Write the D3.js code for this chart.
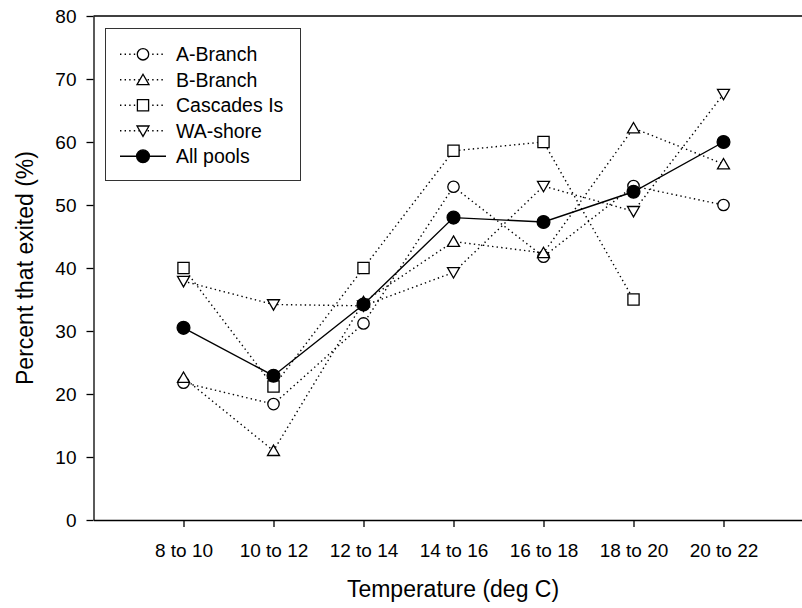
<!DOCTYPE html>
<html>
<head>
<meta charset="utf-8">
<script src="https://d3js.org/d3.v7.min.js"></script>
<style>
body { margin: 0; background: #fff; }
text { font-family: Arial, "Liberation Sans", sans-serif; fill: #000; }
.tick_text { font-size: 19px; }
.axis_title { font-size: 23px; }
.legend_text { font-size: 19.5px; }
</style>
</head>
<body>
<div id="canvas"></div>
<script>
// ----------------------------------------------------------
// DATA -----------------------------------------------------
// ----------------------------------------------------------

var categories = ["8 to 10", "10 to 12", "12 to 14", "14 to 16", "16 to 18", "18 to 20", "20 to 22"];

var y_ticks = [0, 10, 20, 30, 40, 50, 60, 70, 80];

var a_branch    = [21.8, 18.4, 31.2, 52.9, 41.8, 53.0, 50.0];
var b_branch    = [22.6, 11.0, 34.6, 44.2, 42.4, 62.2, 56.5];
var cascades_is = [40.0, 21.2, 40.0, 58.6, 60.0, 35.0, null];
var wa_shore    = [37.9, 34.2, 34.0, 39.3, 53.0, 49.0, 67.6];
var all_pools   = [30.5, 22.9, 34.2, 48.0, 47.3, 52.1, 60.0];

var series_names = ["A-Branch", "B-Branch", "Cascades Is", "WA-shore", "All pools"];

// table built from the arrays above
var data_series = [
{ name: series_names[0], values: a_branch,    marker: "circle",   dotted: true },
{ name: series_names[1], values: b_branch,    marker: "triangle", dotted: true },
{ name: series_names[2], values: cascades_is, marker: "square",   dotted: true },
{ name: series_names[3], values: wa_shore,    marker: "down",     dotted: true },
{ name: series_names[4], values: all_pools,   marker: "filled",   dotted: false }
];


// ----------------------------------------------------------
// STRUCTURE ------------------------------------------------
// ----------------------------------------------------------

var container_width = 802;
var container_height = 608;

var plot_left = 93.5;
var plot_top = 16;
var plot_bottom = 520;

var container = d3.select("#canvas").append("svg")
.attr("width", container_width)
.attr("height", container_height)
.style("display", "block");

var xScale = d3.scaleLinear()
.domain([0, 8])
.range([plot_left, plot_left + 720]);

var yScale = d3.scaleLinear()
.domain([0, 80])
.range([plot_bottom, plot_top]);

// marker path, centred on 0,0
function marker_path(type) {
if (type == "circle") {
return d3.path().arc ? (function () { var p = d3.path(); p.arc(0, 0, 5.7, 0, 2 * Math.PI); return p.toString(); })() : "";
}
if (type == "filled") {
var p = d3.path(); p.arc(0, 0, 6.4, 0, 2 * Math.PI); return p.toString();
}
if (type == "square") {
return "M-5.6,-5.6H5.6V5.6H-5.6Z";
}
if (type == "triangle") {
return "M0,-5.6L6,4.8H-6Z";
}
if (type == "down") {
return "M0,5.6L6,-4.8H-6Z";
}
}

var gfx_group = container.append("g").attr("class", "gfx_group");
var axis_group = container.append("g").attr("class", "axis_group");
var legend_group = container.append("g").attr("class", "legend_group");


// ----------------------------------------------------------
// AXES -----------------------------------------------------
// ----------------------------------------------------------

var x_axis = d3.axisBottom(xScale)
.tickValues(d3.range(1, categories.length + 1))
.tickFormat(function (d) { return categories[d - 1]; })
.tickSize(7)
.tickPadding(12)
.tickSizeOuter(0);

var y_axis = d3.axisLeft(yScale)
.tickValues(y_ticks)
.tickSize(7)
.tickPadding(10)
.tickSizeOuter(0);

var gx = axis_group.append("g")
.attr("transform", `translate(0, ${plot_bottom})`)
.call(x_axis);

var gy = axis_group.append("g")
.attr("transform", `translate(${plot_left}, 0)`)
.call(y_axis);

axis_group.selectAll(".domain, .tick line")
.attr("stroke", "#000")
.attr("stroke-width", 1.3);

axis_group.selectAll(".tick text")
.attr("class", "tick_text")
.attr("font-size", null)
.attr("font-family", null);

gx.selectAll(".tick text").attr("dy", "0.95em");

// top frame line
axis_group.append("line")
.attr("x1", plot_left)
.attr("x2", xScale(8))
.attr("y1", yScale(80))
.attr("y2", yScale(80))
.attr("stroke", "#000")
.attr("stroke-width", 1.3);

// axis titles
axis_group.append("text")
.attr("class", "axis_title")
.attr("x", 453)
.attr("y", 597)
.attr("text-anchor", "middle")
.text("Temperature (deg C)");

axis_group.append("text")
.attr("class", "axis_title")
.attr("transform", `translate(33, ${(plot_top + plot_bottom) / 2}) rotate(-90)`)
.attr("text-anchor", "middle")
.text("Percent that exited (%)");


// ----------------------------------------------------------
// GFX ------------------------------------------------------
// ----------------------------------------------------------

var line = d3.line()
.defined(function (d) { return d != null; })
.x(function (d, i) { return xScale(i + 1); })
.y(function (d) { return yScale(d); });

// lines first
gfx_group.selectAll(".gfx_line")
.data(data_series)
.enter()
.append("path")
.attr("class", "gfx_line")
.attr("d", function (d) { return line(d.values); })
.attr("fill", "none")
.attr("stroke", "#000")
.attr("stroke-width", function (d) { return d.dotted ? 1.4 : 1.4; })
.attr("stroke-dasharray", function (d) { return d.dotted ? "1.4,3.2" : null; });

// markers on top
data_series.forEach(function (s) {
gfx_group.selectAll(null)
.data(s.values.map(function (v, i) { return { v: v, i: i }; }).filter(function (d) { return d.v != null; }))
.enter()
.append("path")
.attr("d", marker_path(s.marker))
.attr("transform", function (d) { return `translate(${xScale(d.i + 1)}, ${yScale(d.v)})`; })
.attr("fill", s.marker == "filled" ? "#000" : "#fff")
.attr("stroke", "#000")
.attr("stroke-width", 1.3);
});


// ----------------------------------------------------------
// LEGEND ---------------------------------------------------
// ----------------------------------------------------------

legend_group.append("rect")
.attr("x", 105.5)
.attr("y", 28.5)
.attr("width", 195)
.attr("height", 152)
.attr("fill", "#fff")
.attr("stroke", "#333")
.attr("stroke-width", 1);

var legend_row = legend_group.selectAll(".legend_row")
.data(data_series)
.enter()
.append("g")
.attr("class", "legend_row")
.attr("transform", function (d, i) { return `translate(0, ${54.3 + i * 25.5})`; });

legend_row.append("line")
.attr("x1", 120)
.attr("x2", 166)
.attr("stroke", "#000")
.attr("stroke-width", 1.4)
.attr("stroke-dasharray", function (d) { return d.dotted ? "1.4,3.2" : null; });

legend_row.append("path")
.attr("d", function (d) { return marker_path(d.marker); })
.attr("transform", "translate(143, 0)")
.attr("fill", function (d) { return d.marker == "filled" ? "#000" : "#fff"; })
.attr("stroke", "#000")
.attr("stroke-width", 1.3);

legend_row.append("text")
.attr("class", "legend_text")
.attr("x", 176)
.attr("y", 7)
.text(function (d) { return d.name; });
</script>
</body>
</html>
